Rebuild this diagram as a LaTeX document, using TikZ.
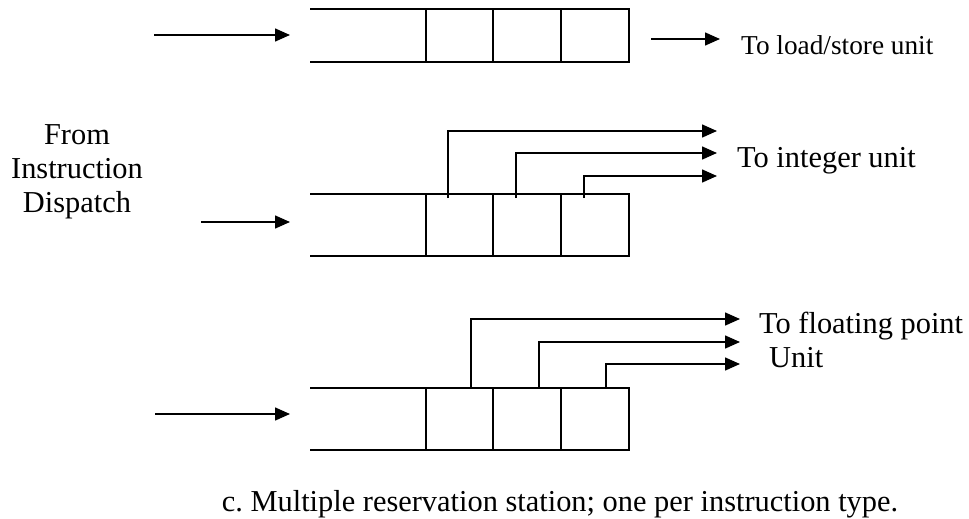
\documentclass[tikz,border=0pt]{standalone}
\usepackage{fontspec}
\setmainfont{Liberation Serif}
\usetikzlibrary{arrows.meta,fit}
\frenchspacing

\tikzset{
  cell/.style={inner sep=0pt, outer sep=0pt, draw=none},
  boxline/.style={line width=2pt, line cap=rect},
  feed/.style={line width=1.5pt, -{Triangle[length=15pt,width=13pt]}},
  lbl/.style={font=\fontsize{30.4}{34}\selectfont, inner sep=0pt},
}

\begin{document}
\begin{tikzpicture}[x=1pt, y=-1pt]
  \useasboundingbox (0,0) rectangle (969,519);

  % three reservation stations, each four slots wide, open on the left
  \foreach \r/\t/\b in {a/9/62, b/194/256, c/388/450}{
    \node[cell, fit={(311,\t) (426,\b)}] (\r1) {};
    \node[cell, fit={(426,\t) (493,\b)}] (\r2) {};
    \node[cell, fit={(493,\t) (561,\b)}] (\r3) {};
    \node[cell, fit={(561,\t) (629,\b)}] (\r4) {};
    \draw[boxline] (\r1.north west) -- (\r4.north east) -- (\r4.south east) -- (\r1.south west);
    \draw[boxline] (\r2.north west) -- (\r2.south west);
    \draw[boxline] (\r3.north west) -- (\r3.south west);
    \draw[boxline] (\r4.north west) -- (\r4.south west);
  }

  % incoming instructions
  \coordinate (ina) at (154,35);
  \coordinate (inb) at (201,222);
  \coordinate (inc) at (155,414);
  \draw[feed] (ina) -- (ina -| 290,0);
  \draw[feed] (inb) -- (inb -| 290,0);
  \draw[feed] (inc) -- (inc -| 290,0);

  % anchor=base sits on the last line here
  \node[lbl, align=center, anchor=base] (src) at (77,212)
    {From\\Instruction\\Dispatch};

  % load/store station output
  \coordinate (oa1) at (651,39);
  \coordinate (ea1) at (720,39);
  \draw[feed] (oa1) -- (ea1);
  \node[lbl, anchor=base west, font=\fontsize{27.3}{32}\selectfont] (tla) at (741,55) {To load/store unit};

  % integer station outputs
  \coordinate (ob1) at (448,198);
  \coordinate (ob2) at (516,198);
  \coordinate (ob3) at (584,198);
  \coordinate (eb1) at (717,131);
  \coordinate (eb2) at (717,153);
  \coordinate (eb3) at (717,176);
  \draw[feed] (ob1) |- (eb1);
  \draw[feed] (ob2) |- (eb2);
  \draw[feed] (ob3) |- (eb3);
  \node[lbl, anchor=base west] (tlb) at (737,167) {To integer unit};

  % floating point station outputs
  \coordinate (oc1) at (471,388);
  \coordinate (oc2) at (539,388);
  \coordinate (oc3) at (606,388);
  \coordinate (ec1) at (740,319);
  \coordinate (ec2) at (740,342);
  \coordinate (ec3) at (740,364);
  \draw[feed] (oc1) |- (ec1);
  \draw[feed] (oc2) |- (ec2);
  \draw[feed] (oc3) |- (ec3);
  \node[lbl, anchor=base west] (tlc1) at (759,333) {To floating point};
  \node[lbl, anchor=base west] (tlc2) at (769,367) {Unit};

  % caption
  \node[lbl, anchor=base] (cap) at (560,511)
    {c. Multiple reservation station; one per instruction type.};
\end{tikzpicture}
\end{document}
